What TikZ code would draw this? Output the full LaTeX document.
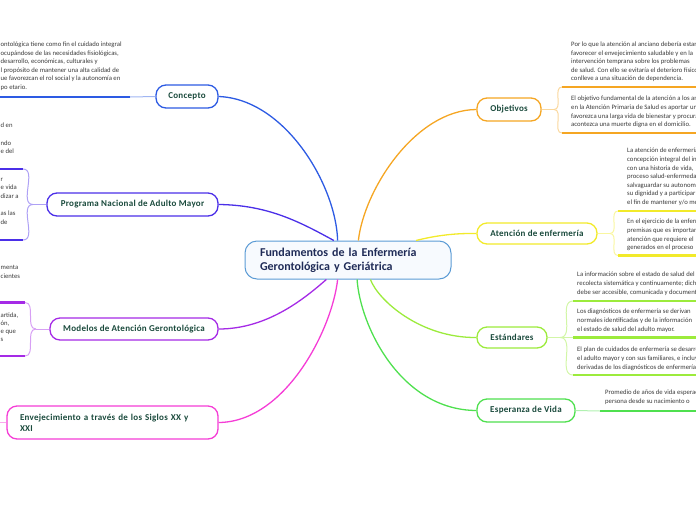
\documentclass[tikz,border=0pt]{standalone}
\usepackage{fontspec}
\setmainfont{Carlito}
\newfontfamily\titulo[LetterSpace=3]{Carlito}
\usetikzlibrary{positioning}
\definecolor{azul}{HTML}{2D5BE3}
\definecolor{violeta}{HTML}{4B2FE8}
\definecolor{morado}{HTML}{A52AE6}
\definecolor{magenta}{HTML}{F53DD6}
\definecolor{naranja}{HTML}{F5A623}
\definecolor{amarillo}{HTML}{F2EA2A}
\definecolor{lima}{HTML}{9CEB3C}
\definecolor{verde}{HTML}{4FE04F}
\definecolor{bordeRaiz}{HTML}{5B9BD5}
\definecolor{fondoRaiz}{HTML}{F7FAFE}
\definecolor{tintaRaiz}{HTML}{1F2B57}
\definecolor{tintaTema}{HTML}{1A4A3C}
\definecolor{tintaTexto}{HTML}{3A3A3A}
\tikzset{
  raiz/.style={draw=bordeRaiz,fill=fondoRaiz,rounded corners=12pt,line width=1pt,minimum width=206pt,minimum height=38pt,text width=176pt,align=left,font=\fontsize{12}{14}\selectfont\bfseries,text=tintaRaiz},
  tema/.style={draw=#1,fill=white,rounded corners=10pt,line width=1.3pt,minimum height=23pt,font=\titulo\fontsize{9}{11}\selectfont\bfseries,text=tintaTema},
  rama/.style={draw=#1,line width=1.3pt},
  subrama/.style={draw=#1!45,line width=1pt},
  subraya/.style={draw=#1,line width=2.4pt},
  texto/.style={font=\fontsize{6.7}{8.6}\selectfont,text=tintaTexto,align=left,inner sep=0pt,anchor=north west,execute at begin node=\strut},
}
\begin{document}
\begin{tikzpicture}[x=1pt,y=-1pt]
\useasboundingbox (0,0) rectangle (696,520);
\clip (0,0) rectangle (696,520);
\node[raiz] (raiz) at (348,260) {Fundamentos de la Enfermería\\Gerontológica y Geriátrica};
\node[tema=azul,minimum width=62pt] (con) at (187,96.5) {Concepto};
\node[tema=violeta,minimum width=171pt] (pna) at (132.5,204.5) {Programa Nacional de Adulto Mayor};
\node[tema=morado,minimum width=168pt,minimum height=22pt] (mod) at (134,329) {Modelos de Atención Gerontológica};
\node[tema=magenta,minimum width=211pt,minimum height=33pt,text width=185pt,align=left] (env) at (112.5,422.5) {Envejecimiento a través de los Siglos XX y\\XXI};
\node[tema=naranja,minimum width=64pt] (obj) at (509,109.5) {Objetivos};
\node[tema=amarillo,minimum width=120pt,minimum height=21pt] (ate) at (537,233.5) {Atención de enfermería};
\node[tema=lima,minimum width=70pt,minimum height=21pt] (est) at (512,337.5) {Estándares};
\node[tema=verde,minimum width=98pt] (esp) at (526,410.5) {Esperanza de Vida};
\draw[rama=azul] (con.east) .. controls (285,99) and (336,185) .. (raiz.118);
\draw[rama=violeta] (pna.east) .. controls (268,205) and (300,222) .. (raiz.126);
\draw[rama=morado] (mod.east) .. controls (268,329) and (305,298) .. (raiz.222);
\draw[rama=magenta] (env.east) .. controls (285,422) and (332,330) .. (raiz.242);
\draw[rama=naranja] (obj.west) .. controls (415,110) and (364,190) .. (raiz.62);
\draw[rama=amarillo] (ate.west) .. controls (450,233) and (430,237) .. (raiz.16.5);
\draw[rama=lima] (est.west) .. controls (420,338) and (378,300) .. (raiz.319);
\draw[rama=verde] (esp.west) .. controls (400,410) and (360,325) .. (raiz.295);
\coordinate (conA) at (130,97);
\draw[subrama=azul] (con.west) -- (conA);
\draw[subraya=azul] (conA) -- ++(-140,0);
\node[texto] (conT) at (0.5,41.7) {ontológica tiene como fin el cuidado integral\\ocupándose de las necesidades fisiológicas,\\desarrollo, económicas, culturales y\\l propósito de mantener una alta calidad de\\ue favorezcan el rol social y la autonomía en\\po etario.};
\coordinate (pnaB) at (33,204.5);
\coordinate (pnaA1) at (23,169);
\coordinate (pnaA2) at (23,240);
\draw[subrama=violeta] (pna.west) -- (pnaB);
\draw[subrama=violeta] (pnaB) to[out=180,in=0] (pnaA1);
\draw[subrama=violeta] (pnaB) to[out=180,in=0] (pnaA2);
\draw[subraya=violeta] (pnaA1) -- ++(-30,0);
\draw[subraya=violeta] (pnaA2) -- ++(-30,0);
\node[texto] (pnaT1) at (0.5,123) {d en\\ \\ndo\\e del};
\node[texto] (pnaT2) at (0.5,177.7) {r\\e vida\\dizar a\\ \\as las\\de};
\coordinate (modB) at (36,329);
\coordinate (modA1) at (25,302.5);
\coordinate (modA2) at (25,356);
\draw[subrama=morado] (mod.west) -- (modB);
\draw[subrama=morado] (modB) to[out=180,in=0] (modA1);
\draw[subrama=morado] (modB) to[out=180,in=0] (modA2);
\draw[subraya=morado] (modA1) -- ++(-30,0);
\draw[subraya=morado] (modA2) -- ++(-30,0);
\node[texto] (modT1) at (0.5,265) {menta\\cientes};
\node[texto,font=\fontsize{6.7}{8}\selectfont] (modT2) at (0.5,312.4) {artida,\\ón,\\e que\\s};
\coordinate (envA) at (-10,422.5);
\draw[subrama=magenta] (env.west) -- (envA);
\coordinate (objB) at (554,109.5);
\coordinate (objA1) at (562,87);
\coordinate (objA2) at (562,133);
\draw[subrama=naranja] (obj.east) -- (objB);
\draw[subrama=naranja] (objB) to[out=0,in=180] (objA1);
\draw[subrama=naranja] (objB) to[out=0,in=180] (objA2);
\draw[subraya=naranja] (objA1) -- ++(140,0);
\draw[subraya=naranja] (objA2) -- ++(140,0);
\node[texto] (objT1) at (571,41.7) {Por lo que la atención al anciano debería estar\\favorecer el envejecimiento saludable y en la\\intervención temprana sobre los problemas\\de salud. Con ello se evitaría el deterioro físico\\conlleve a una situación de dependencia.};
\node[texto] (objT2) at (571,96) {El objetivo fundamental de la atención a los ancianos\\en la Atención Primaria de Salud es aportar una\\favorezca una larga vida de bienestar y procurar\\acontezca una muerte digna en el domicilio.};
\coordinate (ateB) at (610,233.5);
\coordinate (ateA1) at (618,211);
\coordinate (ateA2) at (618,255.5);
\draw[subrama=amarillo] (ate.east) -- (ateB);
\draw[subrama=amarillo] (ateB) to[out=0,in=180] (ateA1);
\draw[subrama=amarillo] (ateB) to[out=0,in=180] (ateA2);
\draw[subraya=amarillo] (ateA1) -- ++(90,0);
\draw[subraya=amarillo] (ateA2) -- ++(90,0);
\node[texto] (ateT1) at (627,148) {La atención de enfermería\\concepción integral del individuo\\con una historia de vida,\\proceso salud-enfermedad\\salvaguardar su autonomía\\su dignidad y a participar\\el fin de mantener y/o mejorar};
\node[texto] (ateT2) at (627,219) {En el ejercicio de la enfermería\\premisas que es importante\\atención que requiere el\\generados en el proceso};
\coordinate (estB) at (560,337.5);
\coordinate (estA1) at (573,301);
\coordinate (estA2) at (573,337.5);
\coordinate (estA3) at (573,375);
\draw[subrama=lima] (est.east) -- (estB);
\draw[subrama=lima] (estB) to[out=0,in=180] (estA1);
\draw[subrama=lima] (estB) -- (estA2);
\draw[subrama=lima] (estB) to[out=0,in=180] (estA3);
\draw[subraya=lima] (estA1) -- ++(130,0);
\draw[subraya=lima] (estA2) -- ++(130,0);
\draw[subraya=lima] (estA3) -- ++(130,0);
\node[texto] (estT1) at (577,272) {La información sobre el estado de salud del\\recolecta sistemática y continuamente; dicha\\debe ser accesible, comunicada y documentada};
\node[texto] (estT2) at (577,309) {Los diagnósticos de enfermería se derivan\\normales identificadas y de la información\\el estado de salud del adulto mayor.};
\node[texto] (estT3) at (577,347) {El plan de cuidados de enfermería se desarrolla\\el adulto mayor y con sus familiares, e incluye\\derivadas de los diagnósticos de enfermería};
\coordinate (espA) at (600,411);
\draw[subrama=verde] (esp.east) -- (espA);
\draw[subraya=verde] (espA) -- ++(100,0);
\node[texto] (espT) at (605,390) {Promedio de años de vida esperada\\persona desde su nacimiento o};
\end{tikzpicture}
\end{document}
